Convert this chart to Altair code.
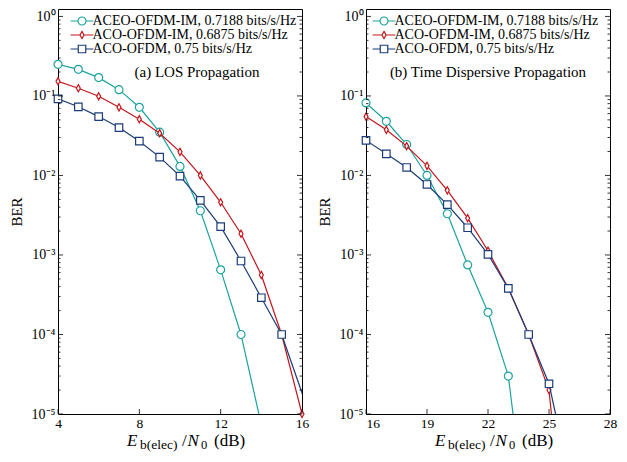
import altair as alt
import pandas as pd

FONT = "Liberation Serif"
SERIES = ["ACEO-OFDM-IM, 0.7188 bits/s/Hz", "ACO-OFDM-IM, 0.6875 bits/s/Hz", "ACO-OFDM, 0.75 bits/s/Hz"]
COLORS = ["#1ca39e", "#c1161c", "#1b3c78"]

# (a) LOS propagation
los_snr_aceo = [4, 5, 6, 7, 8, 9, 10, 11, 12, 13, 14]
los_ber_aceo = [0.25, 0.216, 0.17, 0.12, 0.072, 0.035, 0.013, 0.0036, 0.00065, 1.0e-4, 7.3e-6]
los_snr_acoim = [4, 5, 6, 7, 8, 9, 10, 11, 12, 13, 14, 15, 16]
los_ber_acoim = [0.153, 0.125, 0.099, 0.072, 0.051, 0.034, 0.0198, 0.010, 0.0046, 0.00185, 0.00056, 1.0e-4, 1.0e-5]
los_snr_aco = [4, 5, 6, 7, 8, 9, 10, 11, 12, 13, 14, 15, 17]
los_ber_aco = [0.092, 0.073, 0.055, 0.040, 0.027, 0.017, 0.0098, 0.00486, 0.00227, 0.00084, 0.00029, 1.0e-4, 3.4e-6]

# (b) Time dispersive propagation
td_snr_aceo = [16, 17, 18, 19, 20, 21, 22, 23, 24]
td_ber_aceo = [0.0816, 0.048, 0.0245, 0.0100, 0.0033, 0.00075, 0.00019, 3.0e-5, 2.6e-7]
td_snr_acoim = [16, 17, 18, 19, 20, 21, 22, 23, 24, 25, 26]
td_ber_acoim = [0.055, 0.0375, 0.0234, 0.0132, 0.0065, 0.0029, 0.00113, 0.00038, 1.0e-4, 2.0e-5, 6e-8]
td_snr_aco = [16, 17, 18, 19, 20, 21, 22, 23, 24, 25, 26]
td_ber_aco = [0.0276, 0.0187, 0.0126, 0.0077, 0.0043, 0.0022, 0.00102, 0.00038, 1.0e-4, 2.4e-5, 1.6e-6]

los_xticks = [4, 8, 12, 16]
td_xticks = [16, 19, 22, 25, 28]
y_major = [1e-5, 1e-4, 1e-3, 1e-2, 1e-1, 1.0]
y_minor = [k * 10.0 ** e for e in range(-5, 0) for k in range(2, 10)]

W, H = 244, 405
YMIN, YTOP = 1e-5, 1.24

MARKERS = ["circle", "M0,-1L0.55,0L0,1L-0.55,0Z", "square"]
SIZES = [64, 52, 56]
LEG_PATHS = [
    "M-2.85,0H-1M1,0H2.85M1,0A1,1 0 1,1 -1,0A1,1 0 1,1 1,0",
    "M-2.85,0H-0.5M0.5,0H2.85M0,-0.9L0.5,0L0,0.9L-0.5,0Z",
    "M-2.85,0H-0.94M0.94,0H2.85M-0.94,-0.94H0.94V0.94H-0.94Z",
]

label_expr = ("'10' + (datum.value >= 1 ? '\u2070' : '\u207b' + "
              "['', '\u00b9', '\u00b2', '\u00b3', '\u2074', '\u2075'][round(-log(datum.value) / LN10)])")


def make_df(snrs, bers):
    rows = []
    for name, s, b in zip(SERIES, snrs, bers):
        for xv, yv in zip(s, b):
            rows.append({"snr": xv, "ber": yv, "series": name})
    return pd.DataFrame(rows)


def panel(df, xdom, xticks, note, note_x, leg_x):
    xs = alt.Scale(domain=xdom, nice=False, zero=False)
    ys = alt.Scale(type="log", domain=[YMIN, YTOP], nice=False)
    x_axis = alt.Axis(values=xticks, title=None, ticks=False, tickSize=0, domain=False, grid=False,
                      labelFontSize=13.5, labelPadding=2, format="d", labelFlush=False,
                      labelAlign={"expr": f"datum.value == {xdom[0]} && {xdom[0]} > 4 ? 'left' : 'center'"})
    y_axis = alt.Axis(values=y_major, labelExpr=label_expr, title="BER", ticks=False, tickSize=0,
                      domain=False, grid=False, labelFontSize=14, labelPadding=3, titlePadding=7,
                      titleFontSize=15, labelFlush=False)
    x_enc = alt.X("snr:Q", scale=xs, axis=x_axis)
    y_enc = alt.Y("ber:Q", scale=ys, axis=y_axis)
    legend = alt.Legend(
        orient="none", legendX=leg_x, legendY=5, title=None,
        labelFont=FONT, labelFontSize=14, labelColor="black", labelOffset=3.5, labelLimit=400,
        symbolSize=64, symbolStrokeWidth=1.2, padding=0, rowPadding=-1,
        symbolFillColor="white",
    )
    color_scale = alt.Scale(domain=SERIES, range=COLORS)
    color_enc = alt.Color("series:N", scale=color_scale, legend=legend)

    # legend-only layer (no data drawn): shapes carry the line stubs
    legend_layer = alt.Chart(df).transform_filter("false").mark_point(
        filled=False, fill="white", fillOpacity=1, strokeWidth=1.2, opacity=1
    ).encode(
        x=x_enc, y=y_enc, color=color_enc,
        shape=alt.Shape("series:N", scale=alt.Scale(domain=SERIES, range=LEG_PATHS), legend=legend),
    )
    layers = [legend_layer]
    for i, name in enumerate(SERIES):
        sub = alt.Chart(df).transform_filter(alt.datum.series == name)
        line = sub.mark_line(clip=True, strokeWidth=1.2).encode(x=x_enc, y=y_enc, color=color_enc)
        pts = sub.transform_filter(
            (alt.datum.ber >= YMIN * 0.999) & (alt.datum.snr <= xdom[1])
        ).mark_point(shape=MARKERS[i], size=SIZES[i], filled=False, fill="white", fillOpacity=1,
                     strokeWidth=1.2, opacity=1).encode(x=x_enc, y=y_enc, color=color_enc)
        layers += [line, pts]

    ymaj = pd.DataFrame({"ber": y_major})
    ymin = pd.DataFrame({"ber": y_minor})
    xt = pd.DataFrame({"snr": xticks})
    tk = dict(color="black", strokeWidth=0.8)
    layers += [
        alt.Chart(ymaj).mark_rule(**tk).encode(y=y_enc, x=alt.value(0), x2=alt.value(5)),
        alt.Chart(ymin).mark_rule(**tk).encode(y=y_enc, x=alt.value(0), x2=alt.value(2.5)),
        alt.Chart(ymaj).mark_rule(**tk).encode(y=y_enc, x=alt.value(W), x2=alt.value(W - 5)),
        alt.Chart(ymin).mark_rule(**tk).encode(y=y_enc, x=alt.value(W), x2=alt.value(W - 2.5)),
        alt.Chart(xt).mark_rule(**tk).encode(x=x_enc, y=alt.value(H), y2=alt.value(H - 5)),
    ]

    txt = dict(font=FONT, color="black", align="left", baseline="alphabetic")
    one = pd.DataFrame({"k": [0]})
    layers += [
        alt.Chart(one).mark_text(text=note, fontSize=15, font=FONT, color="black",
                                 align="center", baseline="middle").encode(
            x=alt.value(note_x), y=alt.value(63)),
        alt.Chart(one).mark_text(text="E", fontSize=17, fontStyle="italic", **txt).encode(
            x=alt.value(69), y=alt.value(H + 32)),
        alt.Chart(one).mark_text(text="b(elec)", fontSize=13.5, **txt).encode(
            x=alt.value(82), y=alt.value(H + 35)),
        alt.Chart(one).mark_text(text="/", fontSize=17, **txt).encode(
            x=alt.value(124), y=alt.value(H + 32)),
        alt.Chart(one).mark_text(text="N", fontSize=17, fontStyle="italic", **txt).encode(
            x=alt.value(129.5), y=alt.value(H + 32)),
        alt.Chart(one).mark_text(text="0", fontSize=12.5, **txt).encode(
            x=alt.value(143), y=alt.value(H + 35)),
        alt.Chart(one).mark_text(text="(dB)", fontSize=17, **txt).encode(
            x=alt.value(156), y=alt.value(H + 32)),
    ]
    return alt.layer(*layers).properties(width=W, height=H)


left = panel(make_df([los_snr_aceo, los_snr_acoim, los_snr_aco], [los_ber_aceo, los_ber_acoim, los_ber_aco]),
             [4, 16], los_xticks, "(a) LOS Propagation", 139, 17)
right = panel(make_df([td_snr_aceo, td_snr_acoim, td_snr_aco], [td_ber_aceo, td_ber_acoim, td_ber_aco]),
              [16, 28], td_xticks, "(b) Time Dispersive Propagation", 122, 11)

chart = alt.hconcat(left, right, spacing=6).resolve_legend(
    color="independent", shape="independent"
).properties(padding=0, background="white").configure_view(
    stroke="black", strokeWidth=1
).configure_axis(
    labelFont=FONT, titleFont=FONT, labelColor="black", titleColor="black", titleFontWeight="normal"
)

chart.save("out.html", embed_options={"renderer": "svg", "actions": False})
